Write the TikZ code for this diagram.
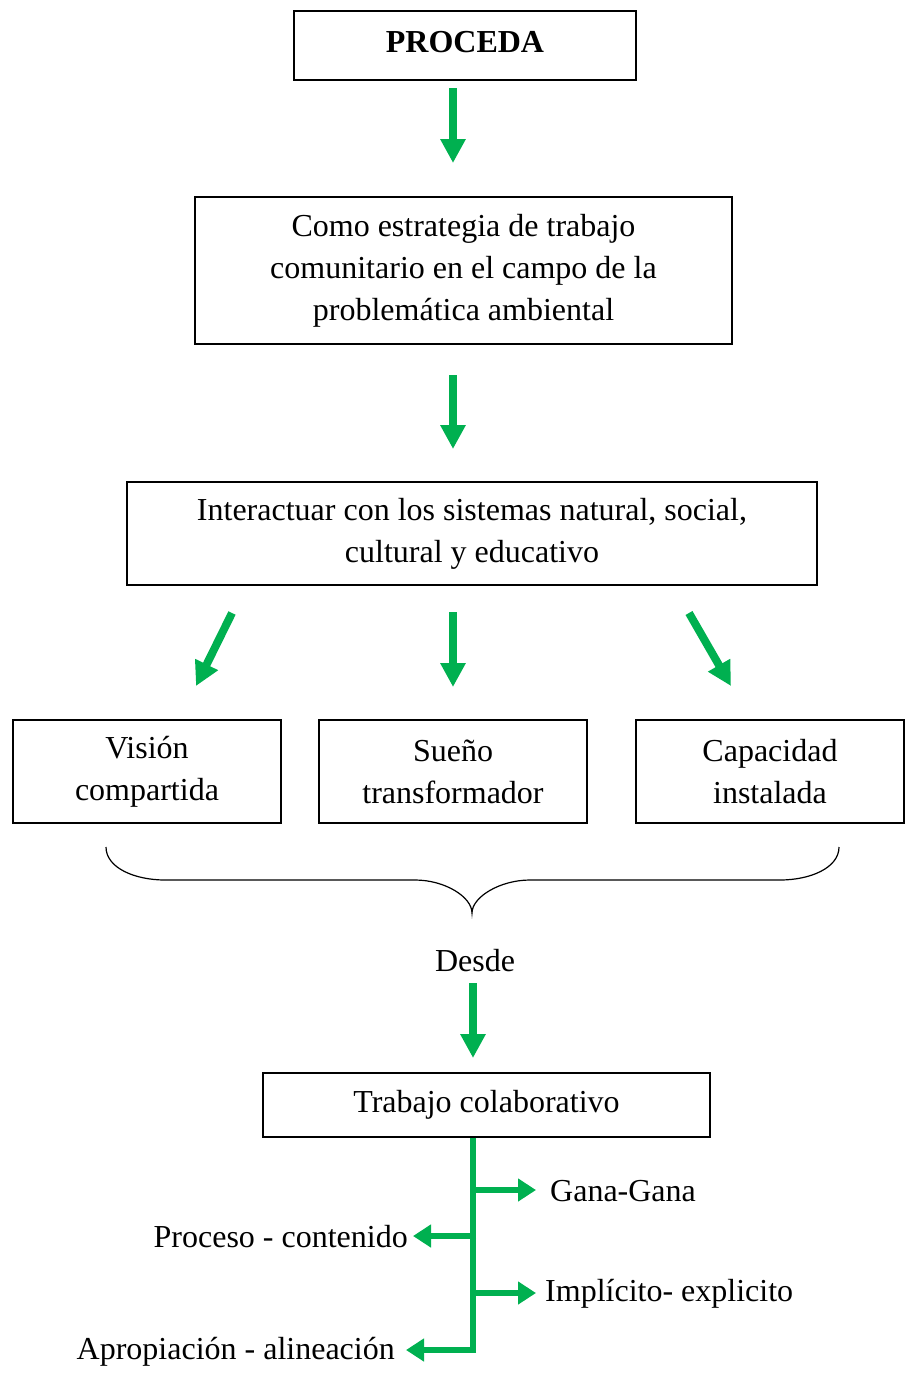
\documentclass[tikz,border=0pt]{standalone}
\usepackage{fontspec}
\setmainfont{Liberation Serif}
\usetikzlibrary{arrows.meta}
\definecolor{ggreen}{RGB}{0,176,80}
\tikzset{
  box/.style={draw, line width=1.3pt, align=center, inner sep=0pt, font=\fontsize{32}{42}\selectfont},
  lbl/.style={inner sep=0pt, font=\fontsize{32}{42}\selectfont},
  garrow/.style={draw=ggreen, line width=8pt, -{Triangle[width=24pt,length=24pt]}},
  sarrow/.style={draw=ggreen, line width=6.5pt, -{Triangle[width=22pt,length=18pt]}},
  brace/.style={draw, line width=1.2pt}
}
\begin{document}
\begin{tikzpicture}[x=1pt,y=-1pt]
\useasboundingbox (0,0) rectangle (907,1385);
\node[box, minimum width=342pt, minimum height=69pt, text depth=8pt] (b1) at (465,45.5) {\textbf{PROCEDA}};
\node[box, minimum width=537pt, minimum height=147pt] (b2) at (463.5,270.5) {Como estrategia de trabajo\\comunitario en el campo de la\\problemática ambiental};
\node[box, minimum width=690pt, minimum height=103pt] (b3) at (472,533.5) {Interactuar con los sistemas natural, social,\\cultural y educativo};
\node[box, minimum width=268pt, minimum height=103pt] (v) at (147,771.5) {Visión\\compartida};
\node[box, minimum width=268pt, minimum height=103pt] (s) at (453,771.5) {Sueño\\transformador};
\node[box, minimum width=268pt, minimum height=103pt] (c) at (770,771.5) {Capacidad\\instalada};
\node[lbl] (desde) at (475,961) {Desde};
\node[box, minimum width=447pt, minimum height=64pt] (t) at (486.5,1105) {Trabajo colaborativo};

\node[lbl, anchor=west] (g) at (550,1191) {Gana-Gana};
\node[lbl, anchor=east] (p) at (408,1237) {Proceso - contenido};
\node[lbl, anchor=west] (i) at (545,1294) {Implícito- explicito};
\node[lbl, anchor=east] (a) at (395,1352) {Apropiación - alineación};

% arrow coordinates
\coordinate (a1s) at (453,88);  \coordinate (a1e) at (453,163);
\coordinate (a2s) at (453,375); \coordinate (a2e) at (453,449);
\coordinate (l1s) at (232,613); \coordinate (l1e) at (196,686);
\coordinate (m1s) at (453,612); \coordinate (m1e) at (453,687);
\coordinate (r1s) at (689,613); \coordinate (r1e) at (731,686);
\coordinate (d1s) at (473,983); \coordinate (d1e) at (473,1058);

\draw[garrow] (a1s) -- (a1e);
\draw[garrow] (a2s) -- (a2e);
\draw[garrow] (l1s) -- (l1e);
\draw[garrow] (m1s) -- (m1e);
\draw[garrow] (r1s) -- (r1e);
\draw[garrow] (d1s) -- (d1e);

% brace
\draw[brace] (106,847) .. controls (106,868) and (135,880) .. (165,880)
  -- (415,880) .. controls (445,880) and (472,897) .. (472,913)
  .. controls (472,897) and (500,880) .. (530,880)
  -- (780,880) .. controls (810,880) and (839,868) .. (839,847);

% bottom tree
\coordinate (tx) at (473,0);
\coordinate (top) at (t.south -| tx);
\coordinate (j1) at (470,1190);
\coordinate (j2) at (476,1236);
\coordinate (j3) at (470,1293);
\coordinate (j4) at (476,1350);
\draw[draw=ggreen, line width=6.5pt] (top) -- (473,1353);
\draw[sarrow] (j1) -- (536,1190);
\draw[sarrow] (j2) -- (413,1236);
\draw[sarrow] (j3) -- (536,1293);
\draw[sarrow] (j4) -- (406,1350);
\end{tikzpicture}
\end{document}
